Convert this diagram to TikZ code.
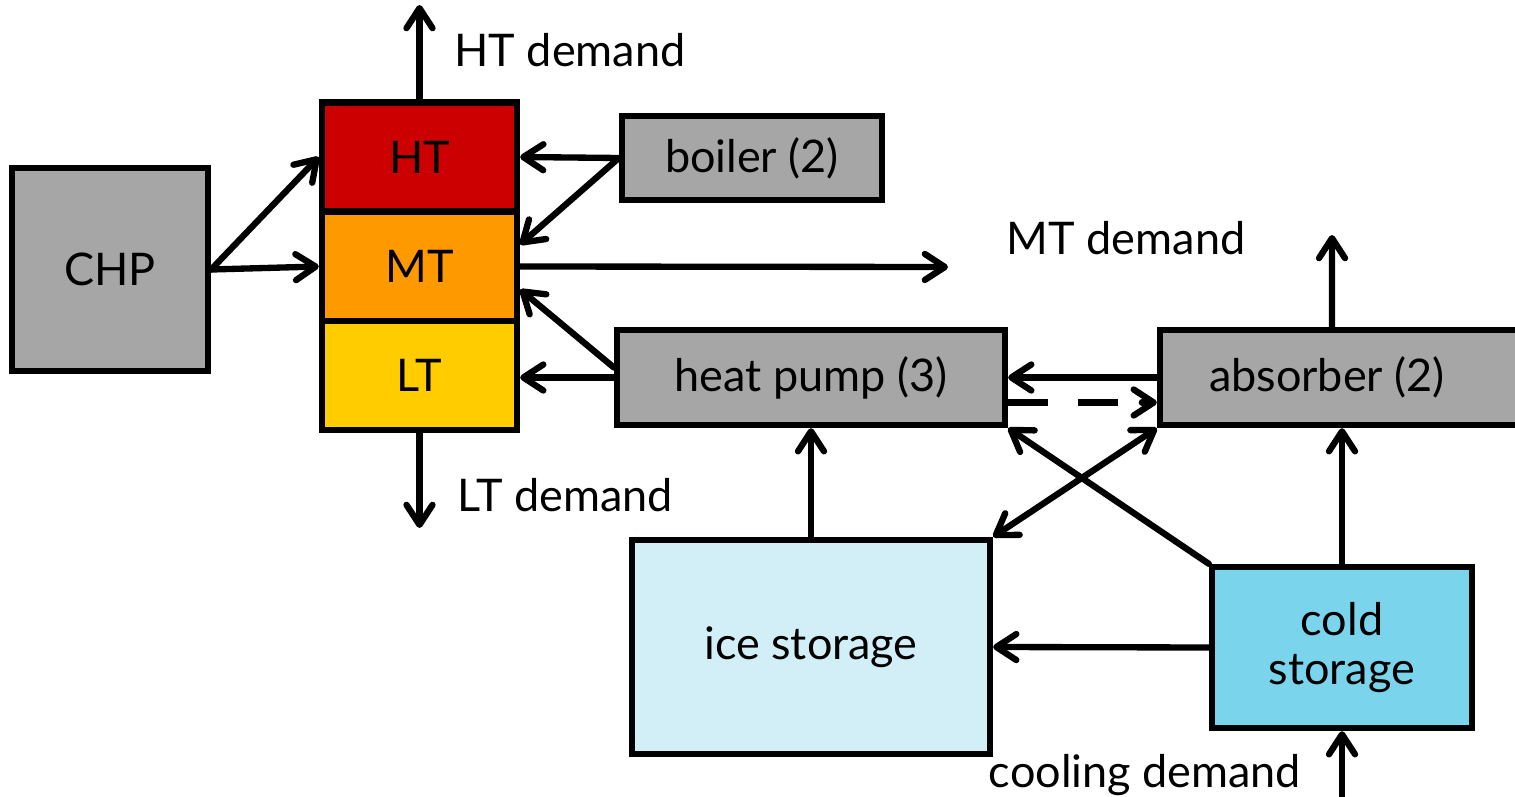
\documentclass[tikz,border=0pt]{standalone}
\usepackage{fontspec}
\setmainfont{Lato}
\usepackage{tikz}
\usetikzlibrary{arrows.meta, positioning}

\definecolor{unitgray}{HTML}{A6A6A6}
\definecolor{htred}{HTML}{CC0000}
\definecolor{mtorange}{HTML}{FF9900}
\definecolor{ltyellow}{HTML}{FFCC00}
\definecolor{icecyan}{HTML}{D2EFF7}
\definecolor{coldcyan}{HTML}{7AD4EC}

\begin{document}
\begin{tikzpicture}[
                font=\fontsize{12.8}{14.2}\selectfont,
                unit/.style={draw, line width=1.8pt, fill=unitgray, rectangle, inner sep=0pt, align=center},
                level/.style={draw, line width=1.8pt, rectangle, inner sep=0pt, minimum width=1.95cm, minimum height=1.09cm},
                line/.style={draw, line width=1.8pt, line cap=round, -{Straight Barb[length=2mm, width=2.6mm, line cap=round, line join=round]}},
                plain/.style={draw, line width=1.8pt},
                both/.style={line, {Straight Barb[length=2mm, width=2.6mm, line cap=round, line join=round]}-{Straight Barb[length=2mm, width=2.6mm, line cap=round, line join=round]}}
            ]
            \useasboundingbox (0,0) rectangle (15.15,-7.97);
            \clip (0,0) rectangle (15.15,-7.97);

            % Heat side
            \node[unit, minimum width=1.96cm, minimum height=2.03cm] (chp) at (1.10,-2.695) {CHP};
            \node[level, fill=htred] (ht) at (4.195,-1.57) {HT};
            \node[level, fill=mtorange] (mt) at (4.195,-2.665) {MT};
            \node[level, fill=ltyellow] (lt) at (4.195,-3.755) {LT};
            \node[unit, minimum width=2.60cm, minimum height=0.84cm] (boiler) at (7.52,-1.58) {boiler (2)};
            \node[unit, minimum width=3.88cm, minimum height=0.95cm] (hp) at (8.11,-3.775) {heat pump (3)};

            % Cold side
            \node[unit, minimum width=3.70cm, minimum height=0.95cm,
                  label={[xshift=-1.8mm]center:absorber (2)}] (absorber) at (13.45,-3.775) {};
            \node[unit, fill=icecyan, minimum width=3.58cm, minimum height=2.14cm] (ice) at (8.11,-6.47) {ice storage};
            \node[unit, fill=coldcyan, minimum width=2.60cm, minimum height=1.61cm] (cold) at (13.42,-6.475) {cold\\storage};

            % Demands
            \coordinate (htd) at (4.195,-0.05);
            \coordinate (mtd) at (9.48,-2.67);
            \coordinate (ltd) at (4.195,-5.28);
            \coordinate (absd) at (13.32,-2.35);
            \coordinate (cd) at (13.42,-8.00);
            \coordinate (dashend) at ([yshift=-2.5mm]absorber.west);
            \node (htlabel) at (5.70,-0.50) {HT demand};
            \node (mtlabel) at (11.26,-2.38) {MT demand};
            \node (ltlabel) at (5.65,-4.95) {LT demand};
            \node (cdlabel) at (11.45,-7.75) {cooling demand};

            % Connections
            \draw[line] (chp.east) -- (ht.west);
            \draw[line] (chp.east) -- (mt.west);

            \draw[line] (boiler.west) -- (ht.east);
            \draw[line] (boiler.west) -- ([yshift=2.2mm]mt.east);

            \draw[line] (ht.north) -- (htd);
            \draw[line] (mt.east) -- (mtd);
            \draw[line] (lt.south) -- (ltd);

            \draw[line] ([yshift=1mm]hp.west) -- ([yshift=-2.3mm]mt.east);
            \draw[line] (hp.west) -- (lt.east |- hp.west);

            \draw[line] (absorber.west) -- (hp.east);
            \draw[plain, dash pattern=on 4mm off 3mm] ([yshift=-2.5mm]hp.east) -- ([xshift=-1mm]dashend);
            \draw[line] ([xshift=-1.5mm]dashend) -- (dashend);
            \draw[line] ([xshift=-1.3mm]absorber.north) -- (absd);

            \draw[both] (ice.north east) -- (absorber.south west);
            \draw[line] (cold.north west) -- (hp.south east);
            \draw[line] (ice.north) -- (hp.south);
            \draw[line] (cold.north) -- (cold.north |- absorber.south);
            \draw[line] (cold.west) -- (ice.east);
            \draw[line] (cd) -- (cold.south);
        \end{tikzpicture}
\end{document}
